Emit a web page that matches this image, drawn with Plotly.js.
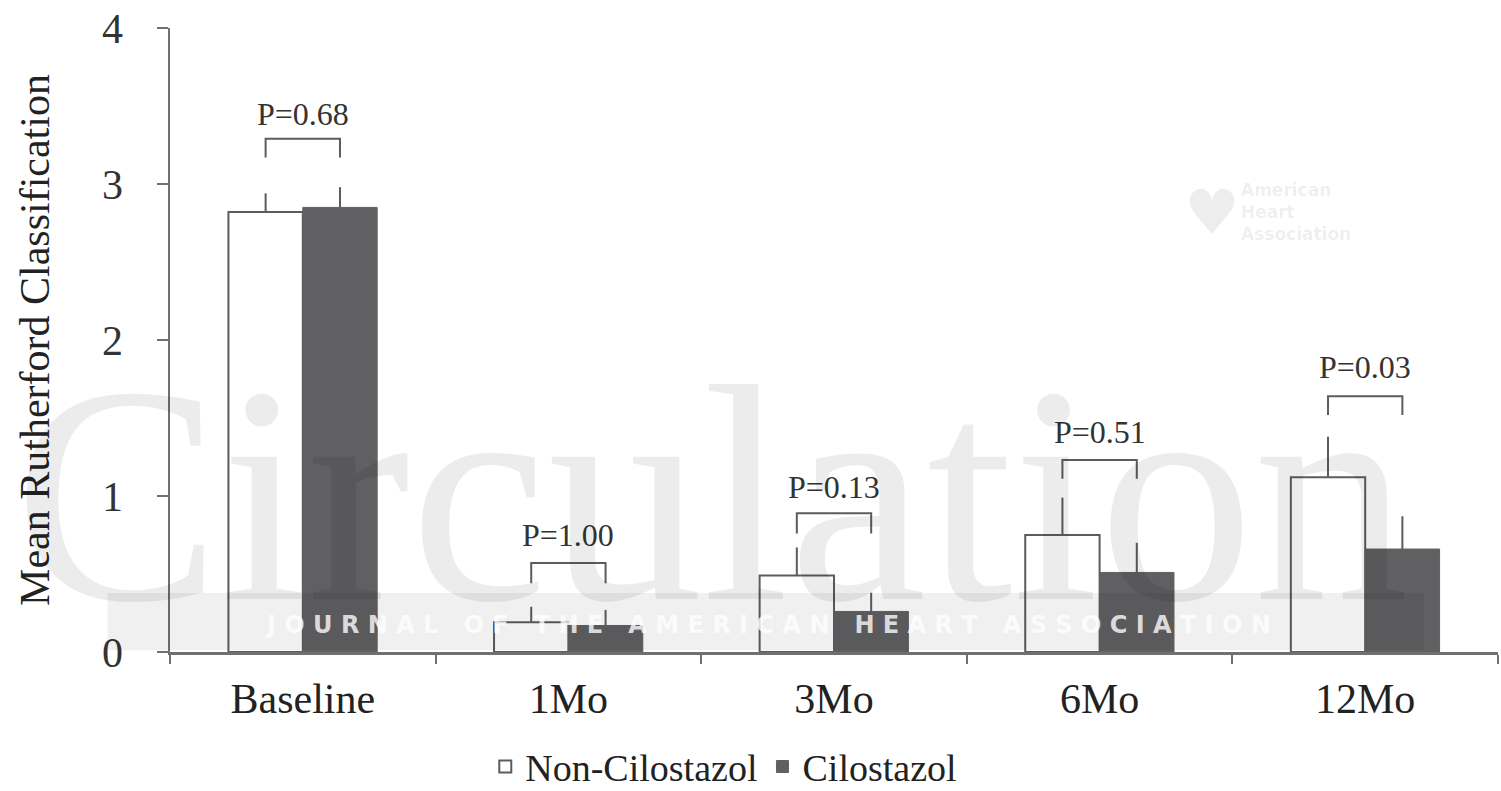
<!DOCTYPE html>
<html>
<head>
<meta charset="utf-8">
<script src="https://cdn.plot.ly/plotly-3.0.1.min.js"></script>
<style>html,body{margin:0;padding:0;background:#fff;}#chart{width:1501px;height:791px;}</style>
</head>
<body>
<div id="chart"></div>
<script>
const categories = ["Baseline", "1Mo", "3Mo", "6Mo", "12Mo"];
const nonCilostazol = [2.82, 0.19, 0.49, 0.75, 1.12];
const nonCilostazolUpper = [2.94, 0.29, 0.67, 0.99, 1.38];
const cilostazol = [2.85, 0.17, 0.26, 0.51, 0.66];
const cilostazolUpper = [2.98, 0.27, 0.38, 0.70, 0.87];
const pLabels = ["P=0.68", "P=1.00", "P=0.13", "P=0.51", "P=0.03"];
const bracketTop = [3.29, 0.57, 0.89, 1.23, 1.64];
const bracketLeg = [3.17, 0.44, 0.76, 1.11, 1.52];
const pLabelY = [3.45, 0.75, 1.06, 1.41, 1.83];
const yTicks = [0, 1, 2, 3, 4];

const serif = "Liberation Serif, Times New Roman, serif";
const axisColor = "#707070";
const halfBar = 0.14;

const traces = [
  {
    type: "bar", name: "Non-Cilostazol", x: categories, y: nonCilostazol,
    marker: {color: "#ffffff", line: {color: "#5c5c5c", width: 2}},
    error_y: {type: "data", symmetric: false,
      array: nonCilostazolUpper.map((u, i) => u - nonCilostazol[i]),
      arrayminus: nonCilostazol.map(() => 0),
      color: "#5c5c5c", thickness: 2, width: 0}
  },
  {
    type: "bar", name: "Cilostazol", x: categories, y: cilostazol,
    marker: {color: "#606062", line: {color: "#606062", width: 1}},
    error_y: {type: "data", symmetric: false,
      array: cilostazolUpper.map((u, i) => u - cilostazol[i]),
      arrayminus: cilostazol.map(() => 0),
      color: "#5c5c5c", thickness: 2, width: 0}
  }
];

const shapes = categories.map((c, i) => ({
  type: "path", xref: "x", yref: "y",
  path: `M ${i - halfBar},${bracketLeg[i]} L ${i - halfBar},${bracketTop[i]} L ${i + halfBar},${bracketTop[i]} L ${i + halfBar},${bracketLeg[i]}`,
  line: {color: "#5c5c5c", width: 2}
}));
// watermark band
shapes.push({type: "rect", xref: "paper", yref: "y", x0: -0.047, x1: 0.944, y0: 0.012, y1: 0.378,
  fillcolor: "rgba(0,0,0,0.06)", line: {width: 0}, layer: "above"});

const annotations = categories.map((c, i) => ({
  x: i, y: pLabelY[i], xref: "x", yref: "y", text: pLabels[i], showarrow: false,
  font: {family: serif, size: 32, color: "#333"}, yanchor: "middle"
}));
annotations.push({
  xref: "paper", yref: "paper", x: 0.408, y: -0.026, yanchor: "bottom", xanchor: "center",
  text: "Circulation", showarrow: false,
  font: {family: serif, size: 310, color: "rgba(0,0,0,0.075)"}
});
annotations.push({
  xref: "paper", yref: "y", x: 0.45, y: 0.17, xanchor: "center", yanchor: "middle",
  text: "<b>J O U R N A L   O F   T H E   A M E R I C A N   H E A R T   A S S O C I A T I O N</b>",
  showarrow: false,
  font: {family: "DejaVu Sans, sans-serif", size: 24, color: "rgba(255,255,255,0.8)"}
});
annotations.push({
  xref: "paper", yref: "paper", x: 0.785, y: 0.705, xanchor: "center", yanchor: "middle",
  text: "♥", showarrow: false,
  font: {family: "DejaVu Sans, sans-serif", size: 62, color: "rgba(0,0,0,0.07)"}
});
annotations.push({
  xref: "paper", yref: "paper", x: 0.805, y: 0.705, xanchor: "left", yanchor: "middle", align: "left",
  text: "<b>American<br>Heart<br>Association</b>", showarrow: false,
  font: {family: "DejaVu Sans, sans-serif", size: 17, color: "rgba(0,0,0,0.08)"}
});

const layout = {
  width: 1501, height: 791,
  margin: {l: 170, r: 3, t: 28, b: 139, autoexpand: false},
  paper_bgcolor: "#ffffff", plot_bgcolor: "#ffffff",
  barmode: "group", bargap: 0.44, bargroupgap: 0,
  showlegend: true,
  legend: {orientation: "h", x: 0.417, xanchor: "center", y: -0.184, yanchor: "middle",
    font: {family: serif, size: 38, color: "#222"}, traceorder: "normal", itemwidth: 30},
  xaxis: {
    type: "category", range: [-0.5, 4.5], tickson: "boundaries",
    ticks: "outside", ticklen: 9, tickcolor: axisColor, tickwidth: 2,
    showline: true, linecolor: axisColor, linewidth: 2.5, showgrid: false, zeroline: false,
    ticklabelstandoff: 8,
    tickfont: {family: serif, size: 42, color: "#222"}
  },
  yaxis: {
    range: [0, 4], tickvals: yTicks, ticktext: yTicks.map(String),
    ticks: "outside", ticklen: 11, tickcolor: axisColor, tickwidth: 2,
    showline: true, linecolor: axisColor, linewidth: 2.5, showgrid: false, zeroline: false,
    ticklabelstandoff: 25,
    tickfont: {family: serif, size: 42, color: "#333"},
    title: {text: "Mean Rutherford Classification", standoff: 40,
      font: {family: serif, size: 42, color: "#222"}}
  },
  shapes: shapes,
  annotations: annotations
};

Plotly.newPlot("chart", traces, layout, {displayModeBar: false, staticPlot: true});
</script>
</body>
</html>
